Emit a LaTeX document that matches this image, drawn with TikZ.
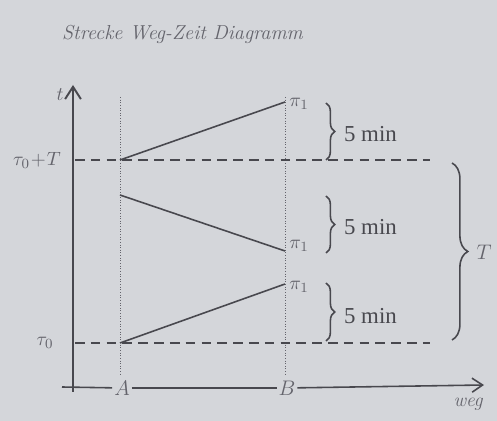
\documentclass[tikz,border=0pt]{standalone}
\usepackage{fontspec}
\newfontfamily\serif{Liberation Serif}
\usetikzlibrary{decorations.pathreplacing,arrows.meta}
\definecolor{paper}{RGB}{212,214,218}
\definecolor{ink}{RGB}{72,72,78}
\definecolor{pencil}{RGB}{100,100,108}
\tikzset{
  axis/.style={draw=ink, line width=1.1pt},
  guide/.style={draw=pencil, line width=0.5pt, densely dotted},
  level/.style={draw=ink, line width=1.1pt, dash pattern=on 5.5pt off 3.5pt},
  trip/.style={draw=ink, line width=0.9pt},
  brc/.style={draw=ink, line width=0.9pt, decorate, decoration={brace, amplitude=5pt}},
  hand/.style={text=pencil, font=\itshape\fontsize{11}{12}\selectfont, inner sep=1pt},
  pilab/.style={text=pencil, font=\fontsize{11}{12}\selectfont, inner sep=1pt},
  mins/.style={text=ink, font=\serif\fontsize{13}{15}\selectfont, anchor=west, inner sep=1pt},
}
\begin{document}
\begin{tikzpicture}[x=0.02cm, y=-0.02cm]
\fill[paper] (0,0) rectangle (497,421);
\useasboundingbox (0,0) rectangle (497,421);

% title
\node[hand, font=\itshape\fontsize{11.5}{13}\selectfont, anchor=west] (title) at (60,34) {Strecke Weg-Zeit Diagramm};

% axes
\coordinate (O) at (73,392);
\coordinate (tTop) at (73,85);
\draw[axis, -{Straight Barb[length=7pt, width=9pt]}] (O) -- (tTop);
\node[hand] (t) at (60,95) {$t$};

\coordinate (hStart) at (62,387);
\node[hand, font=\itshape\fontsize{13}{14}\selectfont] (A) at (122,388) {$A$};
\node[hand, font=\itshape\fontsize{13}{14}\selectfont] (B) at (287,388) {$B$};
\coordinate (hEnd) at (484,385);
\draw[axis, line width=0.9pt] (hStart) -- (A);
\draw[axis, line width=0.9pt] (A) -- (B);
\draw[axis, line width=0.9pt, -{Straight Barb[length=6pt, width=8pt]}] (B) -- (hEnd);
\node[hand] (weg) at (468,404) {weg};

% station guides
\coordinate (Atop) at (120,97);
\coordinate (Abot) at (120,376);
\coordinate (Btop) at (285,97);
\coordinate (Bbot) at (285,376);
\draw[guide] (Atop) -- (Abot);
\draw[guide] (Btop) -- (Bbot);

% time levels
\coordinate (L1a) at (75,160);
\coordinate (L1b) at (430,160);
\coordinate (L0a) at (75,343);
\coordinate (L0b) at (430,343);
\draw[level] (L1a) -- (L1b);
\draw[level] (L0a) -- (L0b);
\node[hand] (tauT) at (37,160) {$\tau_0\!+\!T$};
\node[hand] (tau0) at (45,343) {$\tau_0$};

% trips
\coordinate (p1s) at (120,160);
\coordinate (p1e) at (285,102);
\coordinate (p2s) at (120,195);
\coordinate (p2e) at (285,251);
\coordinate (p3s) at (120,343);
\coordinate (p3e) at (285,284);
\draw[trip] (p1s) -- (p1e);
\draw[trip] (p2s) -- (p2e);
\draw[trip] (p3s) -- (p3e);
\node[pilab] (pi1) at (299,104) {$\pi_1$};
\node[pilab] (pi2) at (299,246) {$\pi_1$};
\node[pilab] (pi3) at (299,287) {$\pi_1$};

% 5 min braces
\coordinate (b1t) at (326,103);
\coordinate (b1b) at (326,160);
\coordinate (b2t) at (326,196);
\coordinate (b2b) at (326,253);
\coordinate (b3t) at (326,283);
\coordinate (b3b) at (326,341);
\draw[brc] (b1t) -- (b1b);
\draw[brc] (b2t) -- (b2b);
\draw[brc] (b3t) -- (b3b);
\node[mins] (m1) at (342,134) {5 min};
\node[mins] (m2) at (342,227) {5 min};
\node[mins] (m3) at (342,316) {5 min};

% T brace
\coordinate (bTt) at (452,163);
\coordinate (bTb) at (452,340);
\draw[brc, decoration={brace, amplitude=9pt}] (bTt) -- (bTb);
\node[hand, font=\itshape\fontsize{13}{14}\selectfont] (T) at (484,252) {$T$};
\end{tikzpicture}
\end{document}
